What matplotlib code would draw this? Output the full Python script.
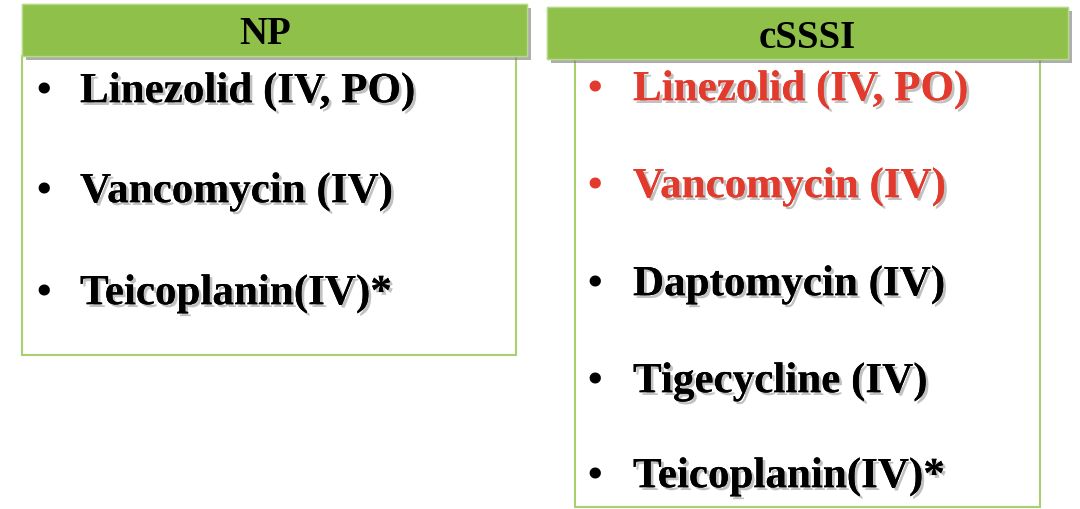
import matplotlib.pyplot as plt
from matplotlib.patches import Rectangle
import matplotlib.patheffects as pe

np_items = ["Linezolid (IV, PO)", "Vancomycin (IV)", "Teicoplanin(IV)*"]
np_colors = ["black", "black", "black"]
cs_items = ["Linezolid (IV, PO)", "Vancomycin (IV)", "Daptomycin (IV)",
            "Tigecycline (IV)", "Teicoplanin(IV)*"]
cs_colors = ["#e23b2e", "#e23b2e", "black", "black", "black"]
np_y = [93, 193, 295]
cs_y = [91, 188, 286, 383, 478]

fig = plt.figure(figsize=(10.8, 5.1), dpi=100)
ax = fig.add_axes([0, 0, 1, 1])
ax.set_xlim(0, 1080)
ax.set_ylim(510, 0)
ax.axis('off')

green = "#8fc04a"
edge = "#a9cf6e"
shadow = [pe.withSimplePatchShadow(offset=(3, -3), shadow_rgbFace='#777777', alpha=0.6), pe.Normal()]
txt_shadow = [pe.withSimplePatchShadow(offset=(2, -2), shadow_rgbFace='#999999', alpha=0.6), pe.Normal()]

# body boxes
ax.add_patch(Rectangle((22, 57), 494, 299, fill=False, ec=edge, lw=1.5))
ax.add_patch(Rectangle((575, 60), 465, 448, fill=False, ec=edge, lw=1.5))
# header boxes
ax.add_patch(Rectangle((22, 5), 505, 52, fc=green, ec="#b8d98a", lw=1, path_effects=shadow))
ax.add_patch(Rectangle((547, 8), 521, 52, fc=green, ec="#b8d98a", lw=1, path_effects=shadow))

font = dict(family="Liberation Serif", weight="bold")
ax.text(265, 35, "NP", fontsize=28, ha="center", va="center", **font)
ax.text(807, 38, "cSSSI", fontsize=28, ha="center", va="center", **font)

for t, c, y in zip(np_items, np_colors, np_y):
    ax.text(36, y, "\u2022", fontsize=30, color=c, va="center", **font)
    ax.text(80, y, t, fontsize=31, color=c, va="center", path_effects=txt_shadow, **font)
for t, c, y in zip(cs_items, cs_colors, cs_y):
    ax.text(587, y, "\u2022", fontsize=30, color=c, va="center", **font)
    ax.text(633, y, t, fontsize=31, color=c, va="center", path_effects=txt_shadow, **font)

fig.savefig("out.png", dpi=100)
